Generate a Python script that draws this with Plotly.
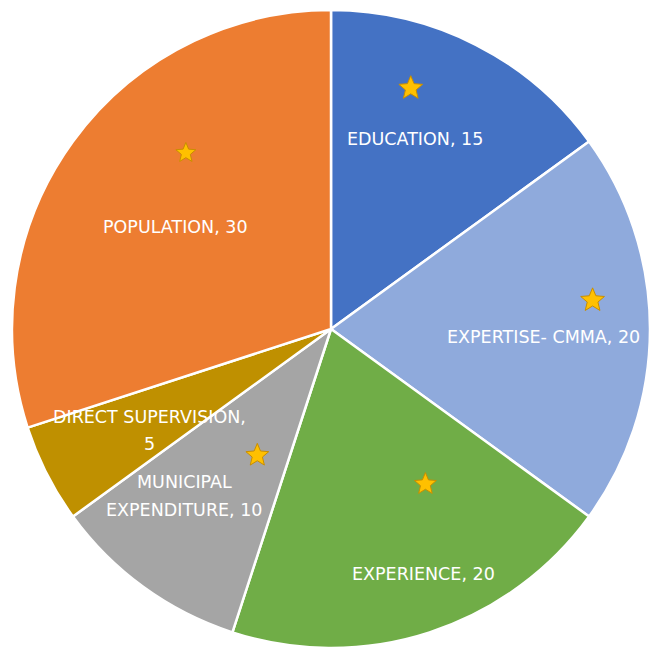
import math
import plotly.graph_objects as go

# ---- data ----
categories = ["EDUCATION", "EXPERTISE- CMMA", "EXPERIENCE", "MUNICIPAL EXPENDITURE",
              "DIRECT SUPERVISION", "POPULATION"]
values = [15, 20, 20, 10, 5, 30]
label_texts = ["EDUCATION, 15", "EXPERTISE- CMMA, 20", "EXPERIENCE, 20",
               "MUNICIPAL<br>EXPENDITURE, 10", "DIRECT SUPERVISION,<br>5", "POPULATION, 30"]
starred = ["EDUCATION", "EXPERTISE- CMMA", "EXPERIENCE", "MUNICIPAL EXPENDITURE", "POPULATION"]

# ---- styles / layout ----
colors = ["#4472C4", "#8FAADC", "#70AD47", "#A5A5A5", "#BF9000", "#ED7D31"]
W, H = 650, 649
dom_x = [12 / W, 1.0]
dom_y = [0.0, 1 - 9 / H]
# pie geometry in pixel space (y downward)
cx = (dom_x[0] + dom_x[1]) / 2 * W
cy = (1 - (dom_y[0] + dom_y[1]) / 2) * H
R = min((dom_x[1] - dom_x[0]) * W, (dom_y[1] - dom_y[0]) * H) / 2

# label anchor offsets (fractions of radius from the centre)
label_offsets = {
    "EDUCATION": (0.262, -0.595),
    "EXPERTISE- CMMA": (0.665, 0.025),
    "EXPERIENCE": (0.290, 0.769),
    "MUNICIPAL EXPENDITURE": (-0.458, 0.523),
    "DIRECT SUPERVISION": (-0.570, 0.318),
    "POPULATION": (-0.489, -0.321),
}
# star placement: (dx/R, dy/R, outer radius px)
star_offsets = {
    "EDUCATION": (0.250, -0.758, 12.5),
    "EXPERTISE- CMMA": (0.820, -0.093, 12.5),
    "EXPERIENCE": (0.296, 0.483, 11.5),
    "MUNICIPAL EXPENDITURE": (-0.231, 0.393, 12.0),
    "POPULATION": (-0.455, -0.555, 10.5),
}
line_gap = 0.087  # fraction of R between text lines
font = dict(family="DejaVu Sans", size=17.5, color="white")


def px(x, y):
    return x / W, 1 - y / H


def star_path(x0, y0, ro):
    ri = ro * 0.45
    pts = []
    for k in range(10):
        r = ro if k % 2 == 0 else ri
        a = math.radians(-90 + 36 * k)
        pts.append(px(x0 + r * math.cos(a), y0 + 1 + r * math.sin(a)))
    return "M " + " L ".join(f"{a:.5f},{b:.5f}" for a, b in pts) + " Z"


fig = go.Figure()
fig.add_trace(go.Pie(
    labels=categories, values=values, sort=False, direction="clockwise", rotation=0,
    marker=dict(colors=colors, line=dict(color="white", width=2.5)),
    textinfo="none", showlegend=False, domain=dict(x=dom_x, y=dom_y),
    hovertemplate="%{label}, %{value}<extra></extra>",
))

shapes = []
for c in starred:
    dx, dy, ro = star_offsets[c]
    shapes.append(dict(type="path", xref="paper", yref="paper", layer="above",
                       path=star_path(cx + dx * R, cy + dy * R, ro),
                       fillcolor="#FFC000", line=dict(color="#C98E00", width=1)))

annotations = []
for c, t in zip(categories, label_texts):
    lines = t.split("<br>")
    dx, dy = label_offsets[c]
    n = len(lines)
    for i, ln in enumerate(lines):
        yy = cy + dy * R + (i - (n - 1) / 2) * line_gap * R
        ax_, ay_ = px(cx + dx * R, yy)
        annotations.append(dict(x=ax_, y=ay_, xref="paper", yref="paper", text=ln,
                                showarrow=False, font=font, xanchor="center", yanchor="middle"))

fig.update_layout(
    width=W, height=H, margin=dict(l=0, r=0, t=0, b=0),
    paper_bgcolor="white", plot_bgcolor="rgba(0,0,0,0)",
    annotations=annotations, shapes=shapes,
)
fig.write_html("out.html", post_script="document.body.style.margin='0';",
               config={"displayModeBar": False})
